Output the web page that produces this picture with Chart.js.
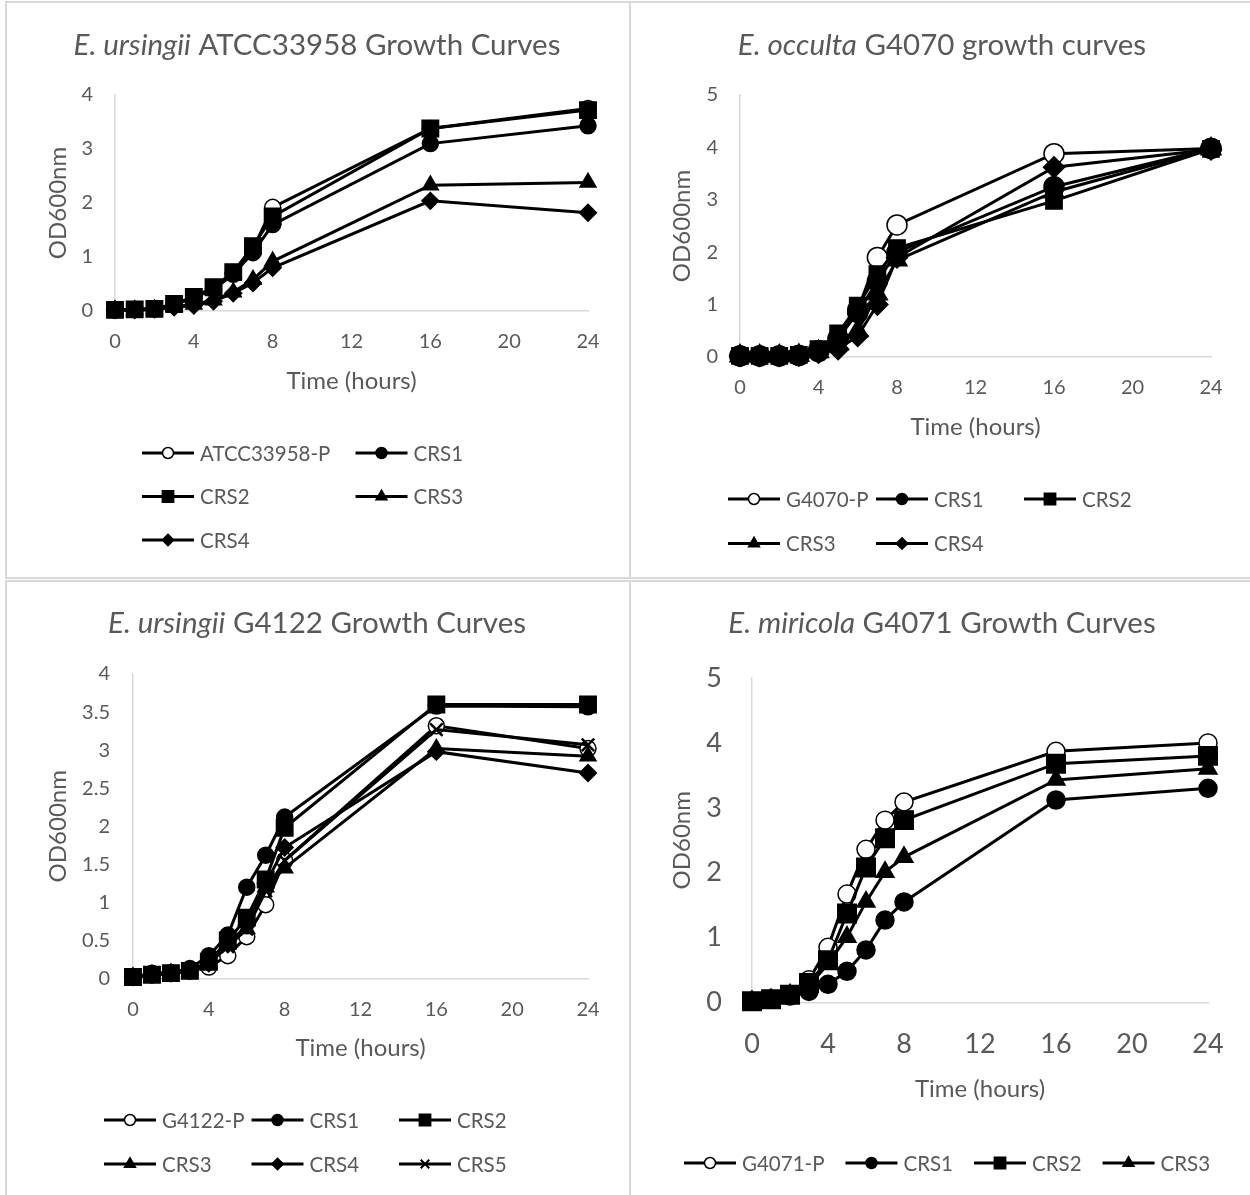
<!DOCTYPE html>
<html>
<head>
<meta charset="utf-8">
<script src="https://cdn.jsdelivr.net/npm/chart.js@4.4.1/dist/chart.umd.min.js"></script>
<style>
  body { margin: 0; background: #fff; width: 1250px; height: 1195px; overflow: hidden; position: relative; }
  .frame { position: absolute; box-sizing: border-box; border: 2px solid #d9d9d9; }
  canvas { position: absolute; }
</style>
</head>
<body>
<div class="frame" style="left:5px;top:1px;width:626px;height:578px"></div>
<div class="frame" style="left:629px;top:1px;width:700px;height:578px"></div>
<div class="frame" style="left:5px;top:580px;width:626px;height:700px"></div>
<div class="frame" style="left:629px;top:580px;width:700px;height:700px"></div>

<canvas id="chart1" width="624" height="574" style="left:6px;top:3px"></canvas>
<canvas id="chart2" width="620" height="574" style="left:630px;top:3px"></canvas>
<canvas id="chart3" width="624" height="614" style="left:6px;top:581px"></canvas>
<canvas id="chart4" width="620" height="614" style="left:630px;top:581px"></canvas>

<script>
// sampling times (hours)
const hours = [0, 1, 2, 3, 4, 5, 6, 7, 8, 16, 24];
const xTicks = [0, 4, 8, 12, 16, 20, 24];

// E. ursingii ATCC33958
const atccLabels = ['ATCC33958-P', 'CRS1', 'CRS2', 'CRS3', 'CRS4'];
const atccP    = [0.02, 0.03, 0.04, 0.12, 0.25, 0.42, 0.70, 1.15, 1.92, 3.38, 3.75];
const atccCRS1 = [0.02, 0.03, 0.04, 0.12, 0.25, 0.40, 0.68, 1.08, 1.60, 3.10, 3.43];
const atccCRS2 = [0.02, 0.03, 0.04, 0.13, 0.26, 0.44, 0.72, 1.20, 1.75, 3.38, 3.72];
const atccCRS3 = [0.02, 0.02, 0.03, 0.08, 0.12, 0.20, 0.35, 0.58, 0.92, 2.33, 2.38];
const atccCRS4 = [0.02, 0.02, 0.03, 0.07, 0.10, 0.18, 0.33, 0.52, 0.80, 2.04, 1.82];

// E. occulta G4070
const g4070Labels = ['G4070-P', 'CRS1', 'CRS2', 'CRS3', 'CRS4'];
const g4070P    = [0.02, 0.02, 0.02, 0.03, 0.12, 0.35, 0.90, 1.90, 2.52, 3.88, 3.98];
const g4070CRS1 = [0.02, 0.02, 0.02, 0.03, 0.10, 0.35, 0.85, 1.45, 2.00, 3.25, 3.98];
const g4070CRS2 = [0.02, 0.02, 0.02, 0.04, 0.15, 0.45, 0.98, 1.58, 2.08, 2.98, 3.97];
const g4070CRS3 = [0.02, 0.02, 0.02, 0.03, 0.10, 0.25, 0.50, 1.20, 1.85, 3.15, 3.97];
const g4070CRS4 = [0.02, 0.02, 0.02, 0.03, 0.08, 0.15, 0.40, 1.00, 1.90, 3.62, 3.96];

// E. ursingii G4122
const g4122Labels = ['G4122-P', 'CRS1', 'CRS2', 'CRS3', 'CRS4', 'CRS5'];
const g4122P    = [0.02, 0.05, 0.07, 0.10, 0.15, 0.30, 0.55, 0.97, 1.55, 3.32, 3.02];
const g4122CRS1 = [0.02, 0.07, 0.08, 0.13, 0.30, 0.57, 1.20, 1.62, 2.12, 3.58, 3.57];
const g4122CRS2 = [0.02, 0.05, 0.07, 0.10, 0.22, 0.50, 0.80, 1.30, 1.98, 3.60, 3.60];
const g4122CRS3 = [0.02, 0.05, 0.07, 0.10, 0.20, 0.45, 0.65, 1.20, 1.45, 3.02, 2.92];
const g4122CRS4 = [0.02, 0.05, 0.07, 0.10, 0.20, 0.45, 0.70, 1.25, 1.72, 2.98, 2.70];
const g4122CRS5 = [0.02, 0.05, 0.07, 0.10, 0.20, 0.42, 0.65, 1.15, 1.55, 3.27, 3.07];

// E. miricola G4071
const g4071Labels = ['G4071-P', 'CRS1', 'CRS2', 'CRS3'];
const g4071P    = [0.02, 0.05, 0.12, 0.35, 0.85, 1.67, 2.36, 2.81, 3.09, 3.87, 4.00];
const g4071CRS1 = [0.02, 0.05, 0.10, 0.17, 0.28, 0.48, 0.81, 1.27, 1.55, 3.12, 3.30];
const g4071CRS2 = [0.02, 0.05, 0.12, 0.30, 0.65, 1.37, 2.08, 2.53, 2.81, 3.68, 3.80];
const g4071CRS3 = [0.02, 0.05, 0.12, 0.25, 0.60, 1.01, 1.55, 2.01, 2.24, 3.43, 3.60];

const GREY = '#595959';
const AXIS = '#d9d9d9';
const FONT = 'Lato';

// marker shapes in series order (P, CRS1, CRS2, ...)
const shapes = [
  { style: 'circle', open: true, k: 1 },
  { style: 'circle', open: false, k: 1 },
  { style: 'rect', open: false, k: 1.45 },
  { style: 'triangle', open: false, k: 1.15 },
  { style: 'rectRot', open: false, k: 1.05 },
  { style: 'crossRot', open: false, k: 1.1 }
];

function makeSeries(labels, lists, r, rectK) {
  return lists.map((vals, i) => {
    const s = shapes[i];
    const k = (s.style === 'rect' && rectK) ? rectK : s.k;
    return {
      label: labels[i],
      data: vals.map((v, j) => ({ x: hours[j], y: v })),
      borderColor: '#000',
      borderWidth: 3,
      pointStyle: s.style,
      pointRadius: r * k,
      pointBorderWidth: s.style === 'crossRot' ? 2.5 : 1.5,
      pointBackgroundColor: s.open ? '#fff' : '#000',
      pointBorderColor: '#000',
      tension: 0,
      clip: false,
      order: lists.length - i
    };
  });
}

// title with italic species name + legend in Excel-like grid
const excelDecor = {
  id: 'excelDecor',
  afterDraw(chart, args, o) {
    const ctx = chart.ctx;
    ctx.save();
    ctx.fillStyle = GREY;
    ctx.textBaseline = 'middle';
    ctx.textAlign = 'left';
    const fi = 'italic ' + o.titleSize + 'px ' + FONT;
    const fn = o.titleSize + 'px ' + FONT;
    ctx.font = fi;
    const w1 = ctx.measureText(o.species).width;
    ctx.font = fn;
    const w2 = ctx.measureText(o.rest).width;
    const tx = o.titleX - (w1 + w2) / 2;
    ctx.font = fi;
    ctx.fillText(o.species, tx, o.titleY);
    ctx.font = fn;
    ctx.fillText(o.rest, tx + w1, o.titleY);

    ctx.font = o.legendSize + 'px ' + FONT;
    let cx = o.legendX;
    chart.data.datasets.forEach((ds, i) => {
      const col = i % o.cols;
      const row = Math.floor(i / o.cols);
      let lx;
      if (o.colWidth) {
        lx = o.legendX + col * o.colWidth;
      } else {
        if (col === 0) cx = o.legendX;
        lx = cx;
      }
      const ly = o.legendY + row * o.rowGap;
      ctx.strokeStyle = '#000';
      ctx.lineWidth = 3;
      ctx.beginPath();
      ctx.moveTo(lx, ly);
      ctx.lineTo(lx + 52, ly);
      ctx.stroke();
      ctx.fillStyle = ds.pointBackgroundColor;
      ctx.lineWidth = ds.pointStyle === 'crossRot' ? 2 : 1.5;
      Chart.helpers.drawPoint(ctx, {
        pointStyle: ds.pointStyle,
        radius: 5.5 * shapes[i].k,
        rotation: 0,
        borderWidth: ctx.lineWidth
      }, lx + 26, ly);
      ctx.fillStyle = GREY;
      ctx.fillText(ds.label, lx + 58, ly + 1);
      cx = lx + 58 + ctx.measureText(ds.label).width + 21;
    });
    ctx.restore();
  }
};

function drawPanel(id, p) {
  const canvas = document.getElementById(id);
  const W = canvas.width, H = canvas.height;
  return new Chart(canvas, {
    type: 'line',
    data: { datasets: makeSeries(p.labels, p.series, p.marker, p.rectK) },
    plugins: [excelDecor],
    options: {
      responsive: false,
      animation: false,
      events: [],
      layout: { padding: { left: 0, top: p.area.t, right: W - p.area.r, bottom: 0 } },
      plugins: {
        legend: { display: false },
        tooltip: { enabled: false },
        excelDecor: p.decor
      },
      scales: {
        x: {
          type: 'linear',
          min: 0, max: 24,
          afterBuildTicks: (s) => { s.ticks = xTicks.map(v => ({ value: v })); },
          ticks: { color: GREY, font: { family: FONT, size: p.xTickSize }, padding: p.xTickPad, maxRotation: 0 },
          grid: { display: false, drawTicks: false },
          border: { color: AXIS, width: 1.5 },
          title: { display: true, text: 'Time (hours)', color: GREY, font: { family: FONT, size: 24 }, padding: { top: 0, bottom: p.xTitlePad } },
          afterFit: (s) => { s.height = H - p.area.b; }
        },
        y: {
          min: 0, max: p.yMax,
          ticks: {
            stepSize: p.yStep, color: GREY, font: { family: FONT, size: p.yTickSize }, padding: p.yTickPad,
            callback: (v) => String(+v.toFixed(2))
          },
          grid: { display: false, drawTicks: false },
          border: { color: AXIS, width: 1.5 },
          title: { display: true, text: p.yTitle, color: GREY, font: { family: FONT, size: 24 }, padding: { top: 38, bottom: 0 } },
          afterFit: (s) => { s.width = p.area.l; }
        }
      }
    }
  });
}

document.addEventListener('DOMContentLoaded', function() {
  drawPanel('chart1', {
    labels: atccLabels,
    series: [atccP, atccCRS1, atccCRS2, atccCRS3, atccCRS4],
    marker: 8,
    area: { l: 109, r: 582, t: 92, b: 308 },
    yMax: 4, yStep: 1, yTitle: 'OD600nm',
    xTickSize: 20, yTickSize: 20, xTickPad: 19, yTickPad: 22, xTitlePad: 181,
    decor: { species: 'E. ursingii', rest: ' ATCC33958 Growth Curves', titleSize: 29.5, titleX: 311, titleY: 42,
             legendSize: 20.5, legendX: 136, legendY: 450, cols: 2, colWidth: 213.5, rowGap: 43.5 }
  });

  drawPanel('chart2', {
    labels: g4070Labels,
    series: [g4070P, g4070CRS1, g4070CRS2, g4070CRS3, g4070CRS4],
    marker: 10,
    rectK: 1.15,
    area: { l: 110, r: 581, t: 92, b: 354 },
    yMax: 5, yStep: 1, yTitle: 'OD600nm',
    xTickSize: 20, yTickSize: 20, xTickPad: 18.5, yTickPad: 22, xTitlePad: 135,
    decor: { species: 'E. occulta', rest: ' G4070 growth curves', titleSize: 29.5, titleX: 312, titleY: 42,
             legendSize: 20.5, legendX: 98, legendY: 496, cols: 3, colWidth: 148, rowGap: 44.5 }
  });

  drawPanel('chart3', {
    labels: g4122Labels,
    series: [g4122P, g4122CRS1, g4122CRS2, g4122CRS3, g4122CRS4, g4122CRS5],
    marker: 8,
    area: { l: 127, r: 582, t: 93, b: 397.5 },
    yMax: 4, yStep: 0.5, yTitle: 'OD600nm',
    xTickSize: 20, yTickSize: 20, xTickPad: 19, yTickPad: 23, xTitlePad: 132,
    decor: { species: 'E. ursingii', rest: ' G4122 Growth Curves', titleSize: 29.5, titleX: 311, titleY: 42,
             legendSize: 20.5, legendX: 98, legendY: 539, cols: 3, colWidth: 147.5, rowGap: 44 }
  });

  drawPanel('chart4', {
    labels: g4071Labels,
    series: [g4071P, g4071CRS1, g4071CRS2, g4071CRS3],
    marker: 9,
    area: { l: 122, r: 578, t: 97, b: 421.5 },
    yMax: 5, yStep: 1, yTitle: 'OD60nm',
    xTickSize: 27, yTickSize: 27, xTickPad: 25.5, yTickPad: 30, xTitlePad: 91,
    decor: { species: 'E. miricola', rest: ' G4071 Growth Curves', titleSize: 29.5, titleX: 312, titleY: 42,
             legendSize: 20.5, legendX: 54, legendY: 582, cols: 4, colWidth: 0, rowGap: 44 }
  });
});
</script>
</body>
</html>
